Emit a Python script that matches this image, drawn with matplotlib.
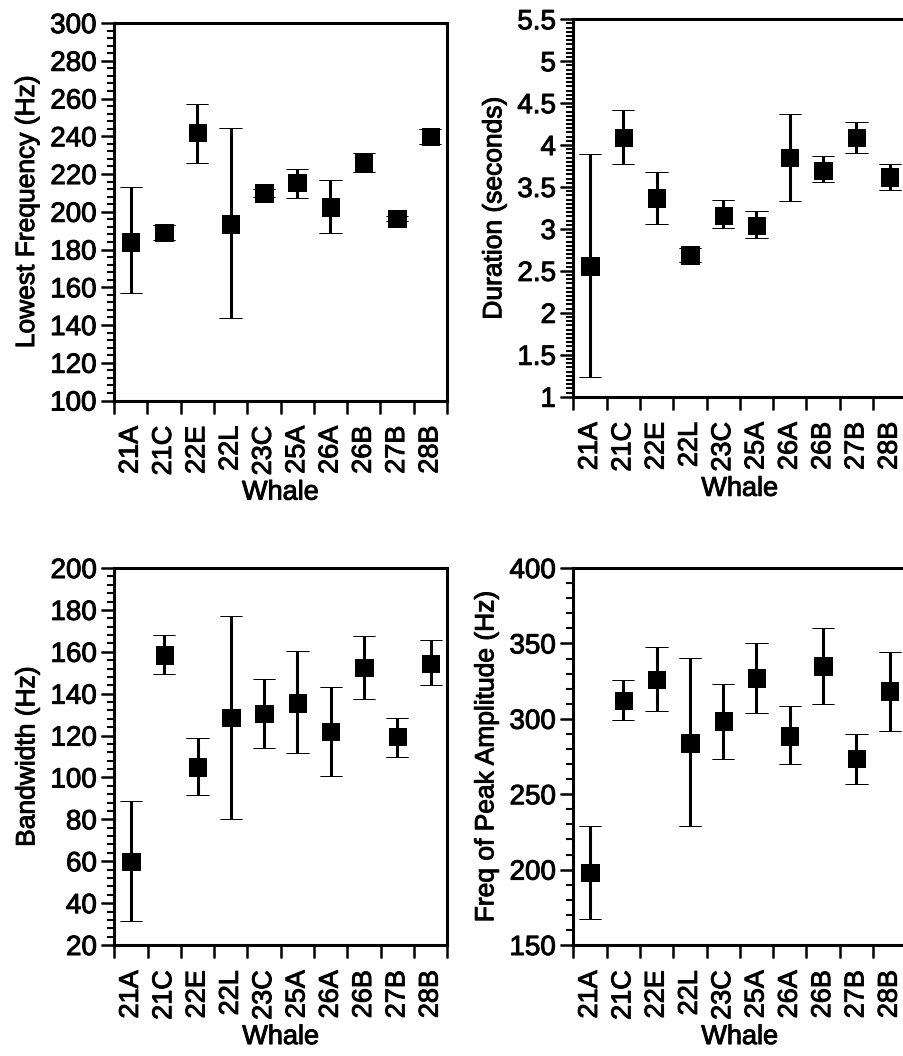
import matplotlib
matplotlib.use('Agg')
import matplotlib.pyplot as plt
import matplotlib.patheffects as pe
from matplotlib.ticker import MultipleLocator, FixedLocator
import numpy as np

plt.rcParams['font.family'] = ['Liberation Sans', 'DejaVu Sans']
plt.rcParams['path.effects'] = [pe.withStroke(linewidth=0.7, foreground='black')]

whales = ['21A', '21C', '22E', '22L', '23C', '25A', '26A', '26B', '27B', '28B']

# Lowest frequency (Hz): mean, bar top, bar bottom
low_freq = [184, 189, 242, 193.5, 210, 215.5, 202.5, 226, 196.5, 240]
low_freq_hi = [213, 193, 257, 244.5, 212, 222.5, 217, 231, 198, 244]
low_freq_lo = [157, 185, 226, 143.5, 208, 207.5, 189, 221, 195, 236]

# Duration (seconds)
duration = [2.56, 4.09, 3.37, 2.69, 3.16, 3.04, 3.85, 3.70, 4.09, 3.62]
duration_hi = [3.89, 4.42, 3.68, 2.77, 3.35, 3.21, 4.37, 3.87, 4.28, 3.77]
duration_lo = [1.23, 3.77, 3.06, 2.61, 3.01, 2.89, 3.33, 3.56, 3.90, 3.47]

# Bandwidth (Hz)
bandwidth = [60, 158.5, 105, 128.5, 130.5, 135.5, 122, 152.5, 119.5, 154.5]
bandwidth_hi = [89, 168, 119, 177, 147, 160.5, 143, 167.5, 128.5, 165.5]
bandwidth_lo = [31.5, 149.5, 91.5, 80, 114, 111.5, 100.5, 137.5, 110, 144]

# Frequency of peak amplitude (Hz)
peak_freq = [198, 312, 326, 284, 298.5, 327, 288.5, 335, 273.5, 318.5]
peak_freq_hi = [229, 326, 347.5, 340.5, 323, 350, 308.5, 360, 290, 344]
peak_freq_lo = [167.5, 299, 305, 229, 273.5, 304, 270, 310, 257, 292]


def panel(ax, mean, hi, lo, ylabel, ylim, major, minor):
    x = np.arange(len(whales)) + 0.5
    mean = np.array(mean)
    err = [mean - np.array(lo), np.array(hi) - mean]
    ax.errorbar(x, mean, yerr=err, fmt='s', color='black', ms=12.5, mew=0.5,
                elinewidth=2.2, capsize=8, capthick=3, clip_on=False)
    ax.set_xlim(0, len(whales))
    ax.set_ylim(*ylim)
    ax.yaxis.set_major_locator(MultipleLocator(major))
    ax.yaxis.set_minor_locator(MultipleLocator(minor))
    ax.xaxis.set_major_locator(FixedLocator(x))
    ax.set_xticklabels(whales, rotation=90, fontsize=19.5)
    ax.xaxis.set_minor_locator(FixedLocator(np.arange(len(whales) + 1)))
    ax.tick_params(axis='x', which='major', length=0, pad=18)
    ax.tick_params(axis='x', which='minor', length=9.5, width=1.8, direction='out')
    ax.tick_params(axis='y', which='major', length=9.5, width=1.8, direction='out',
                   labelsize=20, pad=3)
    ax.tick_params(axis='y', which='minor', length=5, width=1.5, direction='out')
    for s in ax.spines.values():
        s.set_linewidth(2.2)
    ax.set_ylabel(ylabel, fontsize=19, labelpad=8)
    ax.set_xlabel('Whale', fontsize=19.5, labelpad=3)


fig = plt.figure(figsize=(9.04, 10.56), dpi=100)

ax1 = fig.add_axes([0.1261, 0.6207, 0.3684, 0.3575])
ax2 = fig.add_axes([0.6342, 0.6243, 0.3684, 0.3575])
ax3 = fig.add_axes([0.1264, 0.1051, 0.3684, 0.3570])
ax4 = fig.add_axes([0.6342, 0.1051, 0.3684, 0.3570])

panel(ax1, low_freq, low_freq_hi, low_freq_lo, 'Lowest Frequency (Hz)', (100, 300), 20, 4)
panel(ax2, duration, duration_hi, duration_lo, 'Duration (seconds)', (1, 5.5), 0.5, 0.05)
ax2.set_yticks([1, 1.5, 2, 2.5, 3, 3.5, 4, 4.5, 5, 5.5])
ax2.set_yticklabels(['1', '1.5', '2', '2.5', '3', '3.5', '4', '4.5', '5', '5.5'])
panel(ax3, bandwidth, bandwidth_hi, bandwidth_lo, 'Bandwidth (Hz)', (20, 200), 20, 4)
panel(ax4, peak_freq, peak_freq_hi, peak_freq_lo, 'Freq of Peak Amplitude (Hz)', (150, 400), 50, 10)

fig.savefig('out.png', dpi=100)
